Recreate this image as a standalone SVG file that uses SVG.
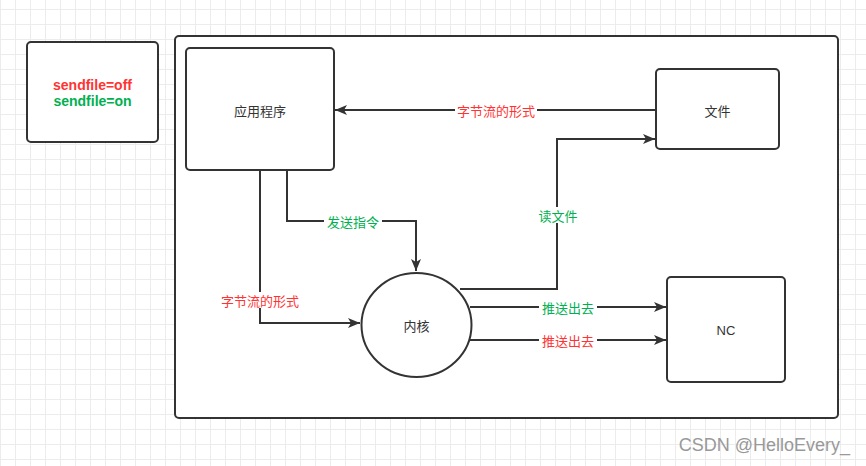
<svg xmlns="http://www.w3.org/2000/svg" width="866" height="466" viewBox="0 0 866 466">
<defs>
<pattern id="grid" width="15" height="15" patternUnits="userSpaceOnUse" x="0" y="9">
<path d="M0 0.5H15M0.5 0V15" fill="none" stroke="#ececec" stroke-width="1"/>
</pattern>
<marker id="arr" viewBox="0 0 12 10" refX="12" refY="5" markerWidth="12" markerHeight="10" markerUnits="userSpaceOnUse" orient="auto">
<path d="M0 0L12 5L0 10L3 5Z" fill="#333"/>
</marker>
</defs>
<style>
.box{fill:#fff;stroke:#333;stroke-width:2}
.lbl{font-family:"Noto Sans CJK SC","Liberation Sans",sans-serif;font-size:13px;fill:#333;text-anchor:middle;dominant-baseline:central}
.ln{fill:none;stroke:#333;stroke-width:2;marker-end:url(#arr)}
.red{fill:#ff3333}
.grn{fill:#00b050}
.bg{fill:#fff}
.leg{font-weight:bold;font-family:"Liberation Sans","Noto Sans",sans-serif;font-size:14px}
</style>
<rect width="866" height="466" fill="#fff"/>
<rect width="866" height="466" fill="url(#grid)"/>
<g id="legend">
<rect class="box" x="27" y="42" width="131" height="100" rx="4"/>
<text class="lbl red leg" x="92.5" y="85">sendfile=off</text>
<text class="lbl grn leg" x="92.5" y="101">sendfile=on</text>
</g>
<g id="container">
<rect class="box" x="175" y="36" width="663" height="382" rx="4"/>
</g>
<g id="app">
<rect class="box" x="186" y="48" width="148" height="122" rx="4"/>
<text class="lbl" x="260" y="110">应用程序</text>
</g>
<g id="file">
<rect class="box" x="656" y="69" width="123" height="80" rx="4"/>
<text class="lbl" x="717.5" y="110">文件</text>
</g>
<g id="kernel">
<ellipse class="box" cx="416.5" cy="325" rx="55" ry="52"/>
<text class="lbl" x="416.5" y="325">内核</text>
</g>
<g id="nc">
<rect class="box" x="667" y="277" width="118" height="105" rx="4"/>
<text class="lbl" x="726" y="330" style="font-family:'Liberation Sans',sans-serif;font-size:13px">NC</text>
</g>
<g id="connectors">
<path class="ln" d="M656 110H335"/>
<rect class="bg" x="455" y="102" width="82" height="16"/>
<text class="lbl red" x="496" y="110">字节流的形式</text>
<path class="ln" d="M287 170V221H416V271"/>
<rect class="bg" x="324" y="213" width="58" height="16"/>
<text class="lbl grn" x="353" y="221">发送指令</text>
<path class="ln" d="M260 170V323H360"/>
<rect class="bg" x="219" y="292" width="82" height="16"/>
<text class="lbl red" x="260" y="300">字节流的形式</text>
<path class="ln" d="M460 289H557V139H655"/>
<rect class="bg" x="537" y="207" width="42" height="16"/>
<text class="lbl grn" x="558" y="215">读文件</text>
<path class="ln" d="M470 307H666"/>
<rect class="bg" x="539" y="299" width="58" height="16"/>
<text class="lbl grn" x="568" y="307">推送出去</text>
<path class="ln" d="M470 340H666"/>
<rect class="bg" x="539" y="332" width="58" height="16"/>
<text class="lbl red" x="568" y="340">推送出去</text>
</g>
<text x="850" y="451" style="font-family:'Liberation Sans',sans-serif;font-size:18px;fill:#999;text-anchor:end">CSDN @HelloEvery_</text>
</svg>
